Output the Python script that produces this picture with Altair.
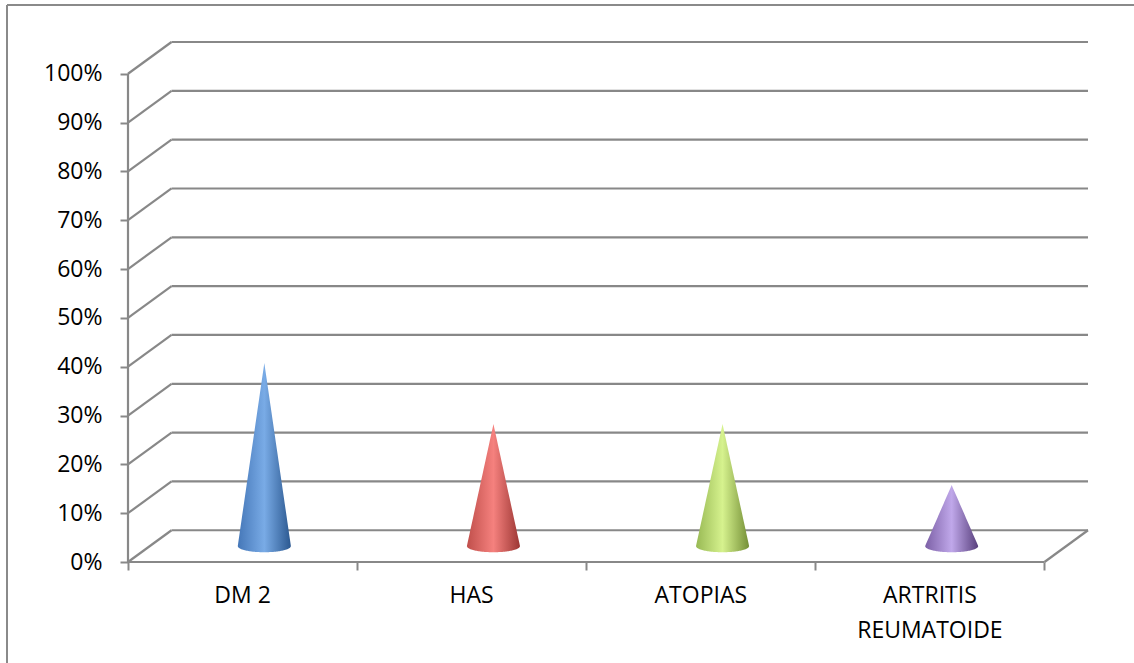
import numpy as np
import pandas as pd
import altair as alt

# ---- data -------------------------------------------------------------
categories = ["DM 2", "HAS", "ATOPIAS", "ARTRITIS\nREUMATOIDE"]
values = [37.5, 25.0, 25.0, 12.5]          # percent
y_ticks = [0, 10, 20, 30, 40, 50, 60, 70, 80, 90, 100]

# cone shading: (edge, highlight, shadow)
cone_colors = [
    ("#4577b8", "#79abe6", "#2b5890"),
    ("#c04f4b", "#f5817e", "#9c3633"),
    ("#98b954", "#d6f28e", "#748f36"),
    ("#7c60a6", "#c0a8ea", "#583f7c"),
]

# ---- pseudo-3D geometry (in data units) --------------------------------
DEPTH_X = 0.19      # horizontal shift of the back wall, in category units
DEPTH_Y = 6.5       # vertical shift of the back wall, in percent
HALF_W = 0.116      # cone base half width
RADIUS_Y = 1.25     # vertical radius of the cone base ellipse
N_CAT = len(categories)

W, H = 960, 520
x_scale = alt.Scale(domain=[0, N_CAT + DEPTH_X], nice=False, zero=False)
y_scale = alt.Scale(domain=[0, 100 + DEPTH_Y], nice=False, zero=False)

GRID = "#888888"
FONT = "Open Sans"
FONT_SIZE = 23


def X(field="x", **kw):
    return alt.X(f"{field}:Q", scale=x_scale, axis=alt.Axis(
        values=list(range(N_CAT + 1)), labels=False, domain=False, grid=False,
        tickSize=8, tickColor=GRID, tickWidth=2, title=None), **kw)


def Y(field="y", **kw):
    return alt.Y(f"{field}:Q", scale=y_scale, axis=alt.Axis(
        values=y_ticks, labelExpr="datum.value + '%'", domain=False, grid=False,
        tickSize=8, tickColor=GRID, tickWidth=2, labelPadding=18,
        labelFont=FONT, labelFontSize=FONT_SIZE, labelColor="#000000", title=None), **kw)


# gridlines: a diagonal on the side wall plus a horizontal line on the back wall
segs = []
for v in y_ticks:
    segs.append(dict(x=0, y=v, x2=DEPTH_X, y2=v + DEPTH_Y))
    segs.append(dict(x=DEPTH_X, y=v + DEPTH_Y, x2=N_CAT + DEPTH_X, y2=v + DEPTH_Y))
# floor front edge, right edge and the front vertical axis
segs.append(dict(x=0, y=0, x2=N_CAT, y2=0))
segs.append(dict(x=N_CAT, y=0, x2=N_CAT + DEPTH_X, y2=DEPTH_Y))
segs.append(dict(x=0, y=0, x2=0, y2=100))
seg_df = pd.DataFrame(segs)

grid = alt.Chart(seg_df).mark_rule(color=GRID, strokeWidth=2.2).encode(
    x=X(), y=Y(), x2="x2:Q", y2="y2:Q"
)

# frame around the chart
frame_df = pd.DataFrame({"k": [0]})
frame_left = alt.Chart(frame_df).mark_rule(color="#8a8a8a", strokeWidth=2).encode(
    x=alt.value(-121), y=alt.value(-37), y2=alt.value(700)
)
frame_top = alt.Chart(frame_df).mark_rule(color="#8a8a8a", strokeWidth=2).encode(
    x=alt.value(-121), x2=alt.value(1100), y=alt.value(-37)
)

# cones: a triangle silhouette closed by the lower half of the base ellipse
layers = [frame_left, frame_top, grid]
t = np.linspace(-1, 1, 61)
for i, (cat, v) in enumerate(zip(categories, values)):
    cx = i + 0.5 + DEPTH_X / 2
    base = DEPTH_Y / 2
    apex = base + v
    df = pd.DataFrame({
        "x": cx + t * HALF_W,
        "top": apex - (apex - base) * np.abs(t),
        "bottom": base - RADIUS_Y * np.sqrt(np.clip(1 - t ** 2, 0, None)),
    })
    edge, light, dark = cone_colors[i]
    fill = alt.Gradient(
        gradient="linear", x1=0, x2=1, y1=0, y2=0,
        stops=[
            alt.GradientStop(color=edge, offset=0),
            alt.GradientStop(color=light, offset=0.5),
            alt.GradientStop(color=dark, offset=1),
        ],
    )
    layers.append(
        alt.Chart(df).mark_area(fill=fill, interpolate="linear").encode(
            x=X(), y=Y("top"), y2="bottom:Q"
        )
    )

# category labels under the floor
lab_df = pd.DataFrame({"cat": categories, "x": [i + 0.5 for i in range(N_CAT)]})
labels = alt.Chart(lab_df).mark_text(
    font=FONT, fontSize=FONT_SIZE, color="#000000", baseline="top", align="center",
    lineBreak="\n", lineHeight=35, dy=23,
).encode(x=X(), y=alt.value(H), text="cat:N")
layers.append(labels)

chart = alt.layer(*layers).properties(
    width=W, height=H,
    autosize=alt.AutoSizeParams(type="none"),
    padding={"left": 128, "top": 42, "right": 46, "bottom": 101},
    background="#ffffff",
).configure_view(stroke=None)

chart.save("out.html", embed_options={"renderer": "svg", "actions": False})
